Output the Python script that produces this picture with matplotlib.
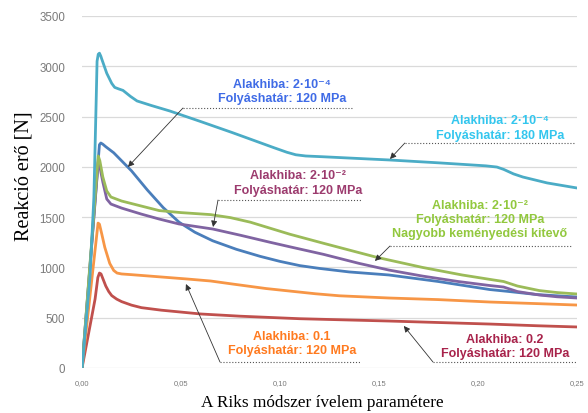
import matplotlib
matplotlib.use('Agg')
import matplotlib.pyplot as plt

# Riks parameter vs reaction force
x_cyan = [0, 0.004, 0.006, 0.0072, 0.0076, 0.0082, 0.0088, 0.0095, 0.010, 0.0125, 0.0150, 0.0165,
          0.0185, 0.0207, 0.0245, 0.0278, 0.035, 0.0444, 0.060, 0.076, 0.090, 0.097, 0.1035,
          0.108, 0.113, 0.122, 0.145, 0.1556, 0.180, 0.2040, 0.2096, 0.213, 0.2180, 0.2227,
          0.235, 0.25]
y_cyan = [0, 900, 1700, 2700, 3050, 3120, 3130, 3100, 3070, 2930, 2830, 2790,
          2775, 2760, 2700, 2655, 2610, 2555, 2450, 2340, 2240, 2190, 2145,
          2120, 2108, 2100, 2078, 2068, 2040, 2010, 1998, 1975, 1930, 1899,
          1840, 1790]

x_blue = [0, 0.0088, 0.0095, 0.0105, 0.012, 0.016, 0.020, 0.025, 0.033, 0.041, 0.049, 0.057,
          0.066, 0.078, 0.090, 0.100, 0.110, 0.120, 0.135, 0.155, 0.180, 0.206, 0.215,
          0.230, 0.25]
y_blue = [0, 2220, 2237, 2225, 2200, 2140, 2060, 1960, 1770, 1595, 1450, 1350,
          1265, 1180, 1110, 1060, 1018, 990, 955, 925, 860, 780, 762,
          730, 706]

x_green = [0, 0.0082, 0.0090, 0.0105, 0.0125, 0.0146, 0.020, 0.030, 0.039, 0.050, 0.065, 0.075,
           0.085, 0.095, 0.105, 0.122, 0.149, 0.172, 0.192, 0.208, 0.213, 0.220, 0.231, 0.240,
           0.25]
y_green = [0, 2108, 2060, 1900, 1760, 1700, 1660, 1610, 1565, 1545, 1525, 1495,
           1450, 1390, 1330, 1240, 1100, 1000, 925, 875, 860, 815, 770, 750,
           736]

x_purple = [0, 0.0082, 0.0090, 0.0105, 0.0125, 0.0146, 0.020, 0.030, 0.039, 0.049, 0.066, 0.080,
            0.095, 0.105, 0.122, 0.140, 0.155, 0.172, 0.190, 0.206, 0.213, 0.220, 0.231, 0.240,
            0.25]
y_purple = [0, 2050, 2000, 1850, 1680, 1630, 1590, 1530, 1481, 1432, 1382, 1320,
            1250, 1205, 1130, 1040, 974, 914, 860, 820, 805, 760, 726, 708,
            696]

x_orange = [0, 0.0081, 0.0088, 0.0100, 0.0115, 0.0140, 0.0160, 0.0177, 0.020, 0.025, 0.040, 0.053,
            0.065, 0.076, 0.093, 0.105, 0.118, 0.130, 0.155, 0.180, 0.206, 0.230, 0.25]
y_orange = [0, 1441, 1430, 1330, 1200, 1040, 970, 944, 935, 928, 905, 885,
            865, 835, 790, 765, 738, 718, 696, 680, 656, 640, 626]

x_red = [0, 0.004, 0.0066, 0.0080, 0.0088, 0.0096, 0.0105, 0.0120, 0.0135, 0.0150, 0.0175, 0.020,
         0.025, 0.030, 0.040, 0.060, 0.080, 0.110, 0.155, 0.206, 0.230, 0.25]
y_red = [0, 415, 686, 900, 944, 935, 890, 815, 760, 720, 685, 660,
         625, 600, 575, 537, 515, 490, 467, 437, 420, 408]

y_ticks = [0, 500, 1000, 1500, 2000, 2500, 3000, 3500]
x_ticks = [0.00, 0.05, 0.10, 0.15, 0.20, 0.25]
x_tick_labels = ['0,00', '0,05', '0,10', '0,15', '0,20', '0,25']

fig = plt.figure(figsize=(5.88, 4.14), dpi=100)
ax = fig.add_axes([0.1395, 0.1087, 0.8415, 0.8503])

ax.plot(x_red, y_red, color='#c0504d', lw=2)
ax.plot(x_orange, y_orange, color='#f79646', lw=2)
ax.plot(x_blue, y_blue, color='#4a7ebb', lw=2)
ax.plot(x_purple, y_purple, color='#8064a2', lw=2)
ax.plot(x_green, y_green, color='#9bbb59', lw=2)
ax.plot(x_cyan, y_cyan, color='#4bacc6', lw=2)

ax.set_xlim(0, 0.25)
ax.set_ylim(0, 3500)
ax.set_yticks(y_ticks)
ax.set_xticks(x_ticks)
ax.set_xticklabels(x_tick_labels)
ax.tick_params(length=0)
ax.tick_params(axis='y', labelsize=8.3, labelcolor='#7a7a7a', pad=12)
ax.tick_params(axis='x', labelsize=5.5, labelcolor='#7a7a7a', pad=8)
for lab in ax.get_xticklabels() + ax.get_yticklabels():
    lab.set_family('Liberation Sans')
for s in ax.spines.values():
    s.set_visible(False)
ax.grid(axis='y', color='#dadada', lw=0.9)
ax.set_axisbelow(True)

ax.set_ylabel('Reakció erő [N]', family='Liberation Serif', fontsize=14.5)
ax.yaxis.set_label_coords(-0.098, 0.548)
ax.set_xlabel('A Riks módszer ívelem paramétere', family='Liberation Serif', fontsize=12.4)
ax.xaxis.label.set_va('center')
ax.xaxis.set_label_coords(0.486, -0.097)

fam = ['Liberation Sans', 'DejaVu Sans']
labels = [
    ('Alakhiba: 2·10⁻⁴\nFolyáshatár: 120 MPa', '#3f6be6', (0.101, 2755),
     (0.051, 0.1369, 2585), (0.0232, 1999)),
    ('Alakhiba: 2·10⁻⁴\nFolyáshatár: 180 MPa', '#33c6ee', (0.2111, 2392),
     (0.1631, 0.2485, 2237), (0.1556, 2078)),
    ('Alakhiba: 2·10⁻²\nFolyáshatár: 120 MPa', '#9c3b6e', (0.1091, 1845),
     (0.0687, 0.1414, 1670), (0.0662, 1402)),
    ('Alakhiba: 2·10⁻²\nFolyáshatár: 120 MPa\nNagyobb keményedési kitevő', '#92c83e', (0.201, 1481),
     (0.1556, 0.2475, 1213), (0.148, 1064)),
    ('Alakhiba: 0.1\nFolyáshatár: 120 MPa', '#ff7a1f', (0.106, 248),
     (0.0697, 0.1404, 60), (0.0525, 835)),
    ('Alakhiba: 0.2\nFolyáshatár: 120 MPa', '#a8234b', (0.2136, 218),
     (0.1773, 0.2505, 60), (0.1626, 418)),
]
for text, col, (tx, ty), (lx0, lx1, ly), (ax_, ay_) in labels:
    ax.text(tx, ty, text, color=col, fontsize=9, fontweight='bold', family=fam,
            ha='center', va='center', linespacing=1.25)
    ax.plot([lx0, lx1], [ly, ly], color='#555555', lw=0.8, ls=':')
    ax.annotate('', xy=(ax_, ay_), xytext=(lx0, ly),
                arrowprops=dict(arrowstyle='-|>', color='#333333', lw=0.6,
                                mutation_scale=9, shrinkA=0, shrinkB=0))

fig.savefig('out.png', dpi=100)
